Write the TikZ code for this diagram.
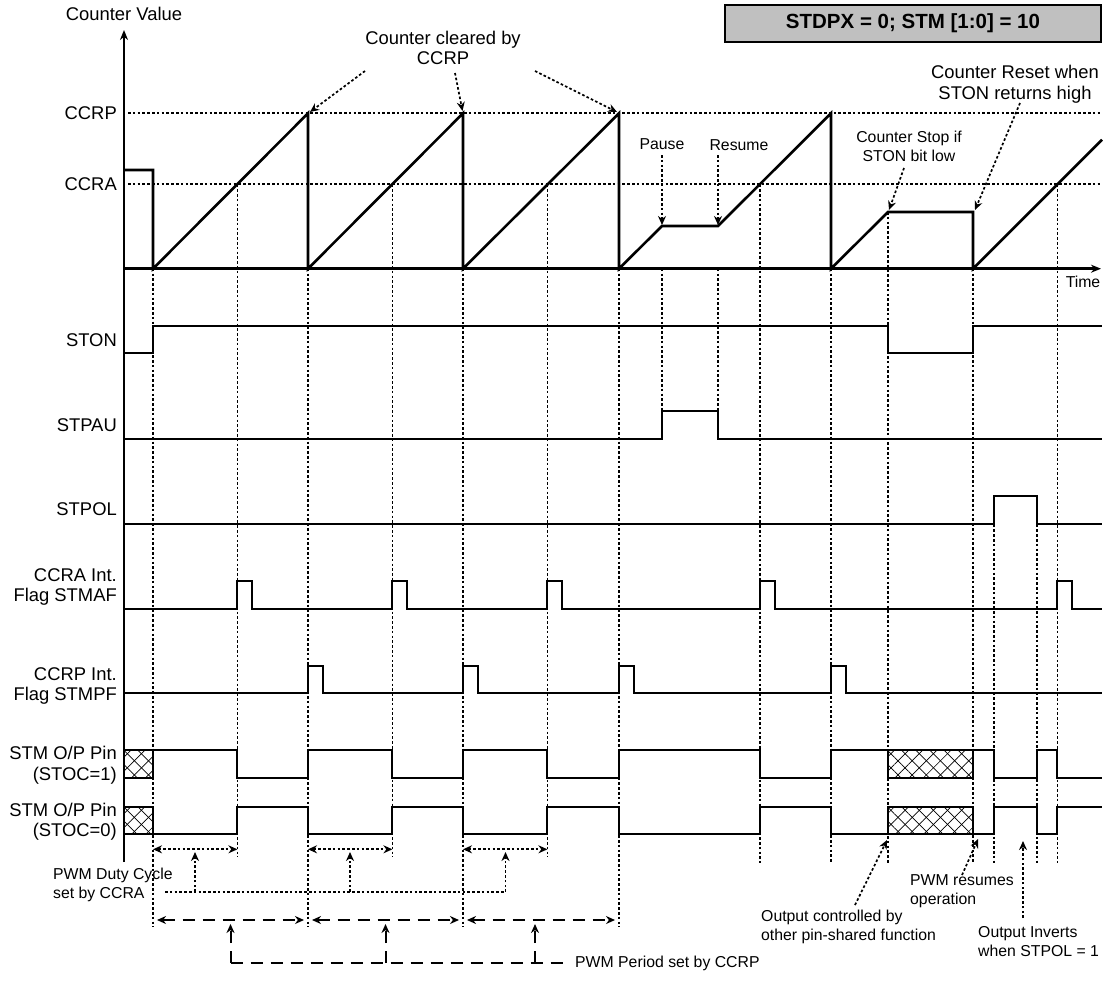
\documentclass[tikz,border=0pt]{standalone}
\usepackage{fontspec}
\setmainfont{Liberation Sans}
\usetikzlibrary{arrows.meta,patterns.meta}
\begin{document}
\begin{tikzpicture}[x=1pt,y=-1pt,
  big/.style={font=\fontsize{18.4}{20.5}\selectfont, inner sep=0pt},
  small/.style={font=\fontsize{15.8}{19}\selectfont, inner sep=0pt},
  ramp/.style={line width=2.6pt, line join=miter},
  sig/.style={line width=2pt, line join=miter},
  axis/.style={line width=2.2pt},
  dots/.style={line width=1.7pt, dash pattern=on 2.6pt off 2.2pt},
  dsh/.style={line width=2pt, dash pattern=on 12pt off 8pt},
  tip/.style={-{Stealth[length=9pt,width=8pt]}},
  tips/.style={{Stealth[length=9pt,width=8pt]}-{Stealth[length=9pt,width=8pt]}},
  hatchbox/.style={line width=2pt,
    postaction={pattern={Lines[angle=45,distance=10pt,line width=0.7pt]}},
    postaction={pattern={Lines[angle=-45,distance=10pt,line width=0.7pt]}}}
]
\useasboundingbox (0,0) rectangle (1103,980);

% ---------- header ----------
\node[draw, line width=1.8pt, fill={rgb,255:red,192;green,192;blue,192},
  minimum width=376pt, minimum height=37pt, inner sep=0pt,
  font=\fontsize{20.5}{23}\selectfont\bfseries] (hdr) at (913,23.5) {STDPX = 0; STM [1:0] = 10};

% ---------- axes ----------
\coordinate (ybot) at (124,862);
\coordinate (ytop) at (124,30);
\coordinate (t0) at (124,268.7);
\coordinate (tend) at (1101,268.7);
\draw[axis,-{Stealth[length=10pt,width=8pt]}] (ybot) -- (ytop);
\draw[ramp,-{Stealth[length=10pt,width=8pt]}] (t0) -- (tend);
\node[big] (cv) at (124,14) {Counter Value};
\node[small] (time) at (1083,282) {Time};
\node[big,anchor=east] (lccrp) at (117,113.3) {CCRP};
\node[big,anchor=east] (lccra) at (117,184.3) {CCRA};

% reference levels
\draw[dots] (128,113.3) -- (1102,113.3);
\draw[dots] (128,184.3) -- (1102,184.3);

% ---------- vertical guides ----------
\foreach \x in {153,308,463,619} \draw[dots] (\x,268.7) -- (\x,927);
\foreach \x in {237.4,392.4,547.4} \draw[dots] (\x,184.3) -- (\x,857);
\foreach \x in {662,718} \draw[dots] (\x,268.7) -- (\x,410.7);
\draw[dots] (759.7,184.3) -- (759.7,863);
\draw[dots] (831,268.7) -- (831,863);
\draw[dots] (888,212) -- (888,863);
\draw[dots] (973,268.7) -- (973,863);
\draw[dots] (994,495.7) -- (994,863);
\draw[dots] (1037,495.7) -- (1037,863);
\draw[dots] (1057.4,184.3) -- (1057.4,863);

% ---------- counter ----------
\draw[ramp] (124,170) -- (153,170) -- (153,268.7) -- (308,113.3) -- (308,268.7)
  -- (463,113.3) -- (463,268.7) -- (619,113.3) -- (619,268.7) -- (662,226)
  -- (718,226) -- (831,113.3) -- (831,268.7) -- (888,212) -- (973,212)
  -- (973,268.7) -- (1102,139.7);

% ---------- signal labels ----------
\node[big,anchor=east] (lston) at (117,340) {STON};
\node[big,anchor=east] (lstpau) at (117,425) {STPAU};
\node[big,anchor=east] (lstpol) at (117,509) {STPOL};
\node[big,anchor=east,align=right] (lmaf) at (117,587) {CCRA Int.\\Flag STMAF};
\node[big,anchor=east,align=right] (lmpf) at (117,686) {CCRP Int.\\Flag STMPF};
\node[big,anchor=east,align=right] (loc1) at (117,765) {STM O/P Pin\\(STOC=1)};
\node[big,anchor=east,align=right] (loc0) at (117,821.5) {STM O/P Pin\\(STOC=0)};

% ---------- signals ----------
\draw[sig] (124,353.3) -- (153,353.3) -- (153,325.7) -- (888,325.7) -- (888,353.3)
  -- (973,353.3) -- (973,325.7) -- (1102,325.7);
\draw[sig] (124,439) -- (662,439) -- (662,410.7) -- (718,410.7) -- (718,439) -- (1102,439);
\draw[sig] (124,524) -- (994,524) -- (994,495.7) -- (1037,495.7) -- (1037,524) -- (1102,524);
\draw[sig] (124,608.7)
  \foreach \a in {237.4,392.4,547.4,759.7,1057.4} { -- (\a,608.7) -- (\a,580.7) -- ({\a+15},580.7) -- ({\a+15},608.7) }
  -- (1102,608.7);
\draw[sig] (124,693.3)
  \foreach \a in {308,463,619,831} { -- (\a,693.3) -- (\a,665.7) -- ({\a+14.5},665.7) -- ({\a+14.5},693.3) }
  -- (1102,693.3);

% STOC = 1
\draw[hatchbox] (124,750) rectangle (153,778.3);
\draw[sig] (153,750) -- (237.4,750) -- (237.4,778.3) -- (308,778.3) -- (308,750)
  -- (392.4,750) -- (392.4,778.3) -- (463,778.3) -- (463,750) -- (547.4,750)
  -- (547.4,778.3) -- (619,778.3) -- (619,750) -- (759.7,750) -- (759.7,778.3)
  -- (831,778.3) -- (831,750) -- (888,750);
\draw[hatchbox] (888,750) rectangle (973,778.3);
\draw[sig] (973,750) -- (994,750) -- (994,778.3) -- (1037,778.3) -- (1037,750)
  -- (1057.4,750) -- (1057.4,778.3) -- (1102,778.3);

% STOC = 0
\draw[hatchbox] (124,806.7) rectangle (153,834);
\draw[sig] (153,834) -- (237.4,834) -- (237.4,806.7) -- (308,806.7) -- (308,834)
  -- (392.4,834) -- (392.4,806.7) -- (463,806.7) -- (463,834) -- (547.4,834)
  -- (547.4,806.7) -- (619,806.7) -- (619,834) -- (759.7,834) -- (759.7,806.7)
  -- (831,806.7) -- (831,834) -- (888,834);
\draw[hatchbox] (888,806.7) rectangle (973,834);
\draw[sig] (973,834) -- (994,834) -- (994,806.7) -- (1037,806.7) -- (1037,834)
  -- (1057.4,834) -- (1057.4,806.7) -- (1102,806.7);

% ---------- top annotations ----------
\node[big,align=center] (clr) at (443,48) {Counter cleared by\\CCRP};
\coordinate (c1s) at (365,71);   \coordinate (c1e) at (310,112);
\coordinate (c2s) at (455,73);   \coordinate (c2e) at (462.5,111);
\coordinate (c3s) at (535,71);   \coordinate (c3e) at (617,112);
\draw[dots,tip] (c1s) -- (c1e);
\draw[dots,tip] (c2s) -- (c2e);
\draw[dots,tip] (c3s) -- (c3e);

\node[small] (pause) at (662,144) {Pause};
\node[small] (resume) at (739,145) {Resume};
\coordinate (ps) at (662,155); \coordinate (pe) at (662,225);
\coordinate (rs) at (718,155); \coordinate (re) at (718,225);
\draw[dots,tip] (ps) -- (pe);
\draw[dots,tip] (rs) -- (re);

\node[small,align=center] (stop) at (909,146) {Counter Stop if\\STON bit low};
\coordinate (ss) at (904,168); \coordinate (se) at (889,210);
\draw[dots,tip] (ss) -- (se);
\node[big,align=center] (reset) at (1015,84) {Counter Reset when\\STON returns high};
\coordinate (rts) at (1020,103); \coordinate (rte) at (975,210);
\draw[dots,tip] (rts) -- (rte);

% ---------- PWM duty cycle ----------
\foreach \a/\b/\m in {153/237.4/195, 308/392.4/350, 463/547.4/505.5} {
  \draw[dots,tips] (\a,849.3) -- (\b,849.3);
  \draw[dots,tip] (\m,892) -- (\m,852);
}
\draw[dots] (165,892) -- (505.5,892);
\node[small,anchor=west,align=left] (duty) at (53,885) {PWM Duty Cycle\\set by CCRA};

% ---------- PWM period ----------
\foreach \a/\b in {153/308, 308/463, 463/619}
  \draw[dsh,tips,shorten <=4pt,shorten >=4pt] (\a,920) -- (\b,920);
\foreach \m in {230.5,385.5,535}
  \draw[dsh,tip] (\m,963) -- (\m,924);
\draw[dsh] (230.5,963) -- (565,963);
\node[small,anchor=west] (period) at (575,963) {PWM Period set by CCRP};

% ---------- bottom right annotations ----------
\node[small,anchor=west,align=left] (octl) at (761,927) {Output controlled by\\other pin-shared function};
\coordinate (os) at (855,905); \coordinate (oe) at (887,840);
\draw[dots,tip] (os) -- (oe);
\node[small,anchor=west,align=left] (pres) at (910,891) {PWM resumes\\operation};
\coordinate (prs) at (962,875); \coordinate (pre) at (978,839);
\draw[dots,tip] (prs) -- (pre);
\node[small,anchor=west,align=left] (inv) at (978,941.5) {Output Inverts\\when STPOL = 1};
\coordinate (is) at (1023,918); \coordinate (ie) at (1023,841);
\draw[dots,tip] (is) -- (ie);
\end{tikzpicture}
\end{document}
